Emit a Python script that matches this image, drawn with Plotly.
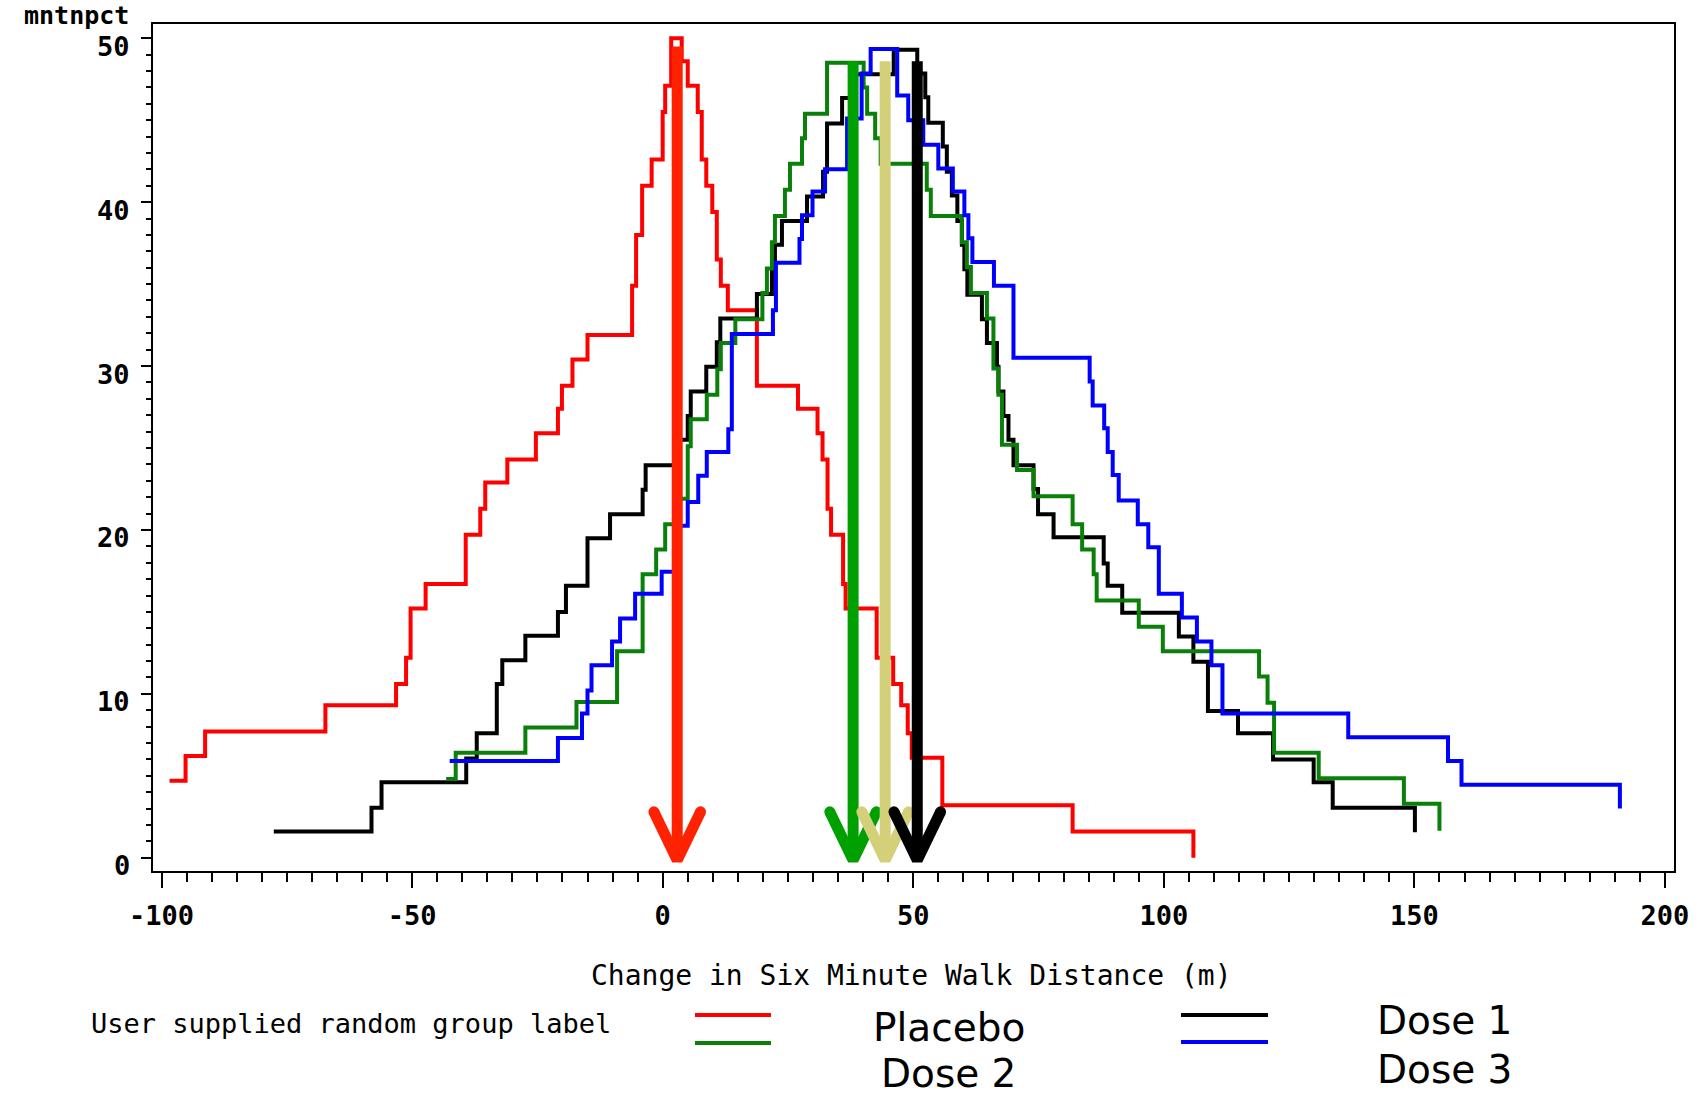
import plotly.graph_objects as go

# ---------------- data ----------------
placebo_x = [-98.4, -95.2, -91.3, -67.3, -53.2, -51.2, -50.3, -47.3, -39.3, -36.4, -35.4, -31.0, -25.3,
             -20.9, -20.1, -18.0, -15.0, -6.1, -5.3, -4.1, -2.2, 0.0, 0.5, 1.7, 3.8, 5.0, 7.0, 7.8, 8.7,
             9.9, 10.8, 11.6, 13.0, 18.8, 27.0, 30.9, 31.9, 32.9, 33.6, 36.0, 36.5, 42.7, 46.0, 47.6,
             48.9, 49.7, 55.8, 81.8, 105.9]
placebo_y = [4.7, 6.2, 7.7, 9.3, 10.6, 12.2, 15.2, 16.7, 19.7, 21.3, 22.9, 24.3, 25.9, 27.4, 28.8, 30.4,
             31.9, 34.9, 38.0, 41.0, 42.6, 45.5, 47.1, 50.0, 48.6, 47.1, 45.5, 42.6, 41.0, 39.4, 36.5,
             34.9, 33.4, 28.8, 27.4, 25.9, 24.3, 21.3, 19.7, 16.7, 15.2, 12.2, 10.6, 9.3, 7.6, 6.1, 3.2,
             1.6, 0.0]

dose1_x = [-77.6, -58.1, -56.1, -39.2, -37.1, -33.1, -32.0, -27.4, -20.9, -19.3, -15.0, -10.5, -4.0,
           -3.4, 2.5, 5.0, 5.6, 8.7, 10.8, 11.5, 18.8, 21.8, 22.4, 23.8, 28.8, 32.0, 32.8, 35.8, 38.5,
           46.1, 50.8, 52.4, 53.0, 55.9, 56.7, 57.7, 58.8, 59.7, 60.2, 60.8, 63.7, 64.7, 66.7, 67.0,
           68.0, 69.0, 70.0, 74.0, 74.9, 78.0, 88.0, 88.8, 91.7, 103.0, 105.9, 108.8, 114.8, 121.8,
           129.9, 133.7, 150.1]
dose1_y = [1.6, 3.05, 4.6, 6.05, 7.6, 10.6, 12.05, 13.55, 15.0, 16.6, 19.5, 20.95, 22.45, 23.95, 25.5,
           26.95, 28.45, 29.95, 31.45, 32.9, 34.4, 35.9, 37.4, 38.85, 40.35, 41.85, 44.8, 46.35, 47.8,
           49.3, 47.85, 46.4, 44.85, 43.4, 41.85, 40.4, 38.85, 37.4, 35.9, 34.35, 32.85, 31.4, 29.95,
           28.45, 26.95, 25.5, 23.95, 22.5, 20.95, 19.55, 17.95, 16.6, 14.95, 13.5, 11.95, 8.95, 7.6,
           6.0, 4.6, 3.05, 1.55]

dose2_x = [-43.2, -41.3, -27.4, -17.2, -9.1, -4.0, -1.3, 0.5, 3.5, 5.0, 5.6, 8.8, 10.9, 11.6, 14.5,
           19.9, 20.8, 21.8, 22.4, 24.4, 25.4, 27.8, 28.4, 32.8, 40.1, 40.8, 42.4, 43.5, 52.7, 53.5,
           59.7, 60.7, 61.5, 64.7, 66.0, 67.0, 67.7, 70.7, 74.0, 81.8, 83.7, 86.0, 86.6, 95.0, 99.8,
           119.0, 120.7, 122.0, 130.9, 147.9, 155.0]
dose2_y = [4.8, 6.4, 7.95, 9.5, 12.6, 17.3, 18.8, 20.35, 21.9, 25.1, 26.75, 28.25, 29.8, 31.4, 32.85,
           34.45, 35.95, 37.55, 39.15, 40.75, 42.35, 43.9, 45.4, 48.5, 47.0, 45.4, 43.9, 42.35, 40.75,
           39.15, 37.55, 36.05, 34.45, 32.9, 29.85, 28.25, 25.2, 23.65, 22.05, 20.35, 18.8, 17.3,
           15.7, 14.1, 12.6, 11.05, 9.45, 6.4, 4.85, 3.3, 1.65]

dose3_x = [-42.5, -20.9, -16.1, -15.0, -14.2, -10.1, -8.5, -5.5, -0.2, 3.0, 5.0, 7.1, 8.8, 13.1, 13.8,
           22.0, 22.6, 27.3, 27.8, 29.9, 32.4, 36.8, 39.7, 41.5, 46.8, 49.0, 52.0, 55.0, 57.9, 60.2,
           61.0, 61.8, 66.1, 70.0, 85.2, 85.8, 88.1, 88.8, 89.8, 91.0, 94.8, 96.9, 99.0, 103.6, 106.6,
           109.5, 111.7, 136.8, 156.7, 159.4, 191.0]
dose3_y = [5.9, 7.3, 8.8, 10.2, 11.75, 13.2, 14.6, 16.1, 17.45, 20.25, 21.7, 23.3, 24.75, 26.15, 31.95,
           33.4, 36.3, 37.75, 39.2, 40.65, 42.0, 45.1, 47.85, 49.35, 46.5, 45.0, 43.5, 42.05, 40.65,
           39.2, 37.8, 36.35, 34.9, 30.5, 29.05, 27.6, 26.2, 24.75, 23.35, 21.8, 20.35, 18.95, 16.1,
           14.65, 13.2, 11.75, 8.8, 7.35, 5.9, 4.45, 3.0]

# vertical reference arrows (location on the x scale, top of the shaft)
arrow_x = [2.9, 38.0, 44.4, 50.8]
arrow_top = [49.5, 48.6, 48.6, 48.6]

x_tick_vals = [-100, -50, 0, 50, 100, 150, 200]
x_tick_labels = ["-100", "-50", "0", "50", "100", "150", "200"]
y_tick_vals = [0, 10, 20, 30, 40, 50]
y_tick_labels = ["0", "10", "20", "30", "40", "50"]

legend_left = ["Placebo", "Dose 2"]
legend_right = ["Dose 1", "Dose 3"]

# ---------------- styling ----------------
W, H = 1703, 1097
ML, MR, MT, MB = 153, 29, 24, 226
PW, PH = W - ML - MR, H - MT - MB
SAS = "DejaVu Sans Mono, Liberation Mono, monospace"
BIG = "DejaVu Sans, Verdana, sans-serif"

curve_colors = {"Placebo": "#ff0000", "Dose 1": "#000000", "Dose 2": "#0a800a", "Dose 3": "#0000ff"}
arrow_colors = ["#ff2200", "#00a000", "#d4d07a", "#000000"]


def px(X):
    return (X - ML) / PW


def py(Y):
    return (H - MB - Y) / PH


fig = go.Figure()

series = [("Placebo", placebo_x, placebo_y), ("Dose 1", dose1_x, dose1_y),
          ("Dose 2", dose2_x, dose2_y), ("Dose 3", dose3_x, dose3_y)]
for name, xs, ys in series:
    fig.add_trace(go.Scatter(x=xs, y=ys, mode="lines", name=name,
                             line=dict(color=curve_colors[name], width=4, shape="hv"),
                             showlegend=False, hoverinfo="skip"))

# arrows: shaft + open V head
HEAD_DX, HEAD_DY, TIP = 4.65, 2.95, -0.15
for ax, top, col in zip(arrow_x, arrow_top, arrow_colors):
    fig.add_trace(go.Scatter(
        x=[ax, ax, None, ax - HEAD_DX, ax, ax + HEAD_DX],
        y=[top, TIP, None, TIP + HEAD_DY, TIP, TIP + HEAD_DY],
        mode="lines", line=dict(color=col, width=11), showlegend=False, hoverinfo="skip"))
    fig.add_trace(go.Scatter(
        x=[ax - HEAD_DX, ax + HEAD_DX], y=[TIP + HEAD_DY, TIP + HEAD_DY],
        mode="markers", marker=dict(color=col, size=11, line=dict(width=0)),
        showlegend=False, hoverinfo="skip"))

axis_common = dict(showline=True, linecolor="black", linewidth=2, mirror=True,
                   ticks="outside", tickcolor="black", tickwidth=2,
                   showgrid=False, zeroline=False)

fig.update_xaxes(range=[-101.7, 201.8], tickmode="array", tickvals=x_tick_vals,
                 ticktext=x_tick_labels, ticklen=15, ticklabelstandoff=5,
                 tickfont=dict(family=SAS, size=27, color="black", weight="bold"),
                 minor=dict(dtick=5, tick0=0, ticks="outside", ticklen=9, tickwidth=2,
                            tickcolor="black"),
                 **axis_common)
fig.update_yaxes(range=[-0.81, 50.87], tickmode="array", tickvals=y_tick_vals,
                 showticklabels=False, ticklen=10,
                 minor=dict(dtick=1, tick0=0, ticks="outside", ticklen=5, tickwidth=2,
                            tickcolor="black"),
                 **axis_common)

annotations = []
# y tick labels (SAS draws them a little below the tick mark)
for v, lab in zip(y_tick_vals, y_tick_labels):
    annotations.append(dict(text=lab, xref="paper", x=px(131), yref="y", y=v, yshift=-8,
                            xanchor="right", yanchor="middle", borderpad=0, showarrow=False,
                            font=dict(family=SAS, size=27, color="black", weight="bold")))

other = [
    dict(text="mntnpct", x=px(130), y=py(15), xanchor="right", yanchor="middle", borderpad=0,
         font=dict(family=SAS, size=25, color="black", weight="bold")),
    dict(text="Change in Six Minute Walk Distance (m)", x=px(911), y=py(975),
         xanchor="center", yanchor="middle", font=dict(family=SAS, size=28, color="black")),
    dict(text="User supplied random group label", x=px(89), y=py(1023),
         xanchor="left", yanchor="middle", font=dict(family=SAS, size=27, color="black")),
    dict(text=legend_left[0], x=px(949), y=py(1027), xanchor="center", yanchor="middle",
         borderpad=0, font=dict(family=BIG, size=39, color="black")),
    dict(text=legend_left[1], x=px(948), y=py(1097), xanchor="center", yanchor="bottom",
         borderpad=0, font=dict(family=BIG, size=39, color="black")),
    dict(text=legend_right[0], x=px(1444), y=py(1021), xanchor="center", yanchor="middle",
         borderpad=0, font=dict(family=BIG, size=39, color="black")),
    dict(text=legend_right[1], x=px(1444), y=py(1093), xanchor="center", yanchor="bottom",
         borderpad=0, font=dict(family=BIG, size=39, color="black")),
]
for a in other:
    a.update(xref="paper", yref="paper", showarrow=False)
annotations += other

shapes = []
for (x0, x1, Y, name) in [(695, 771, 1015, "Placebo"), (695, 771, 1043, "Dose 2"),
                          (1181, 1268, 1015, "Dose 1"), (1181, 1268, 1042, "Dose 3")]:
    shapes.append(dict(type="line", xref="paper", yref="paper", x0=px(x0), x1=px(x1),
                       y0=py(Y), y1=py(Y), line=dict(color=curve_colors[name], width=4)))

fig.update_layout(width=W, height=H, margin=dict(l=ML, r=MR, t=MT, b=MB, autoexpand=False),
                  paper_bgcolor="white", plot_bgcolor="white", showlegend=False,
                  annotations=annotations, shapes=shapes)

fig.write_html("out.html", config={"displayModeBar": False},
               post_script="document.body.style.margin='0px';document.body.style.overflow='hidden';")
